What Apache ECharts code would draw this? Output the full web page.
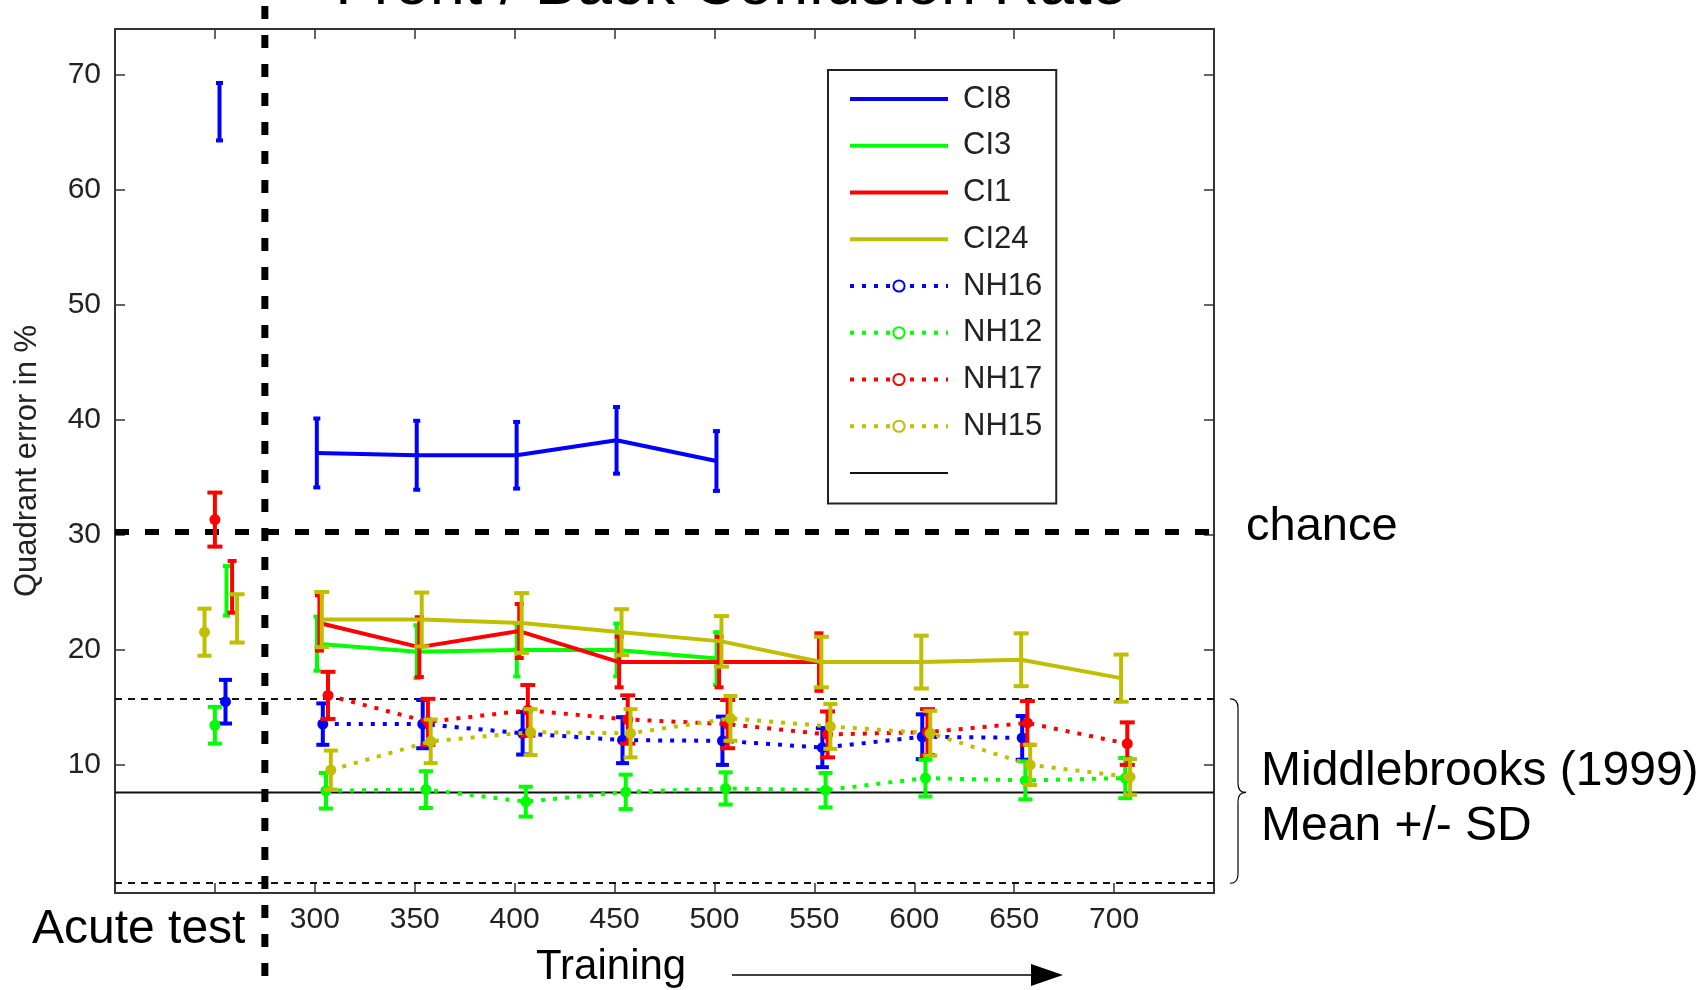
<!DOCTYPE html>
<html><head><meta charset="utf-8">
<script src="https://cdn.jsdelivr.net/npm/echarts@6/dist/echarts.min.js"></script>
<style>html,body{margin:0;padding:0;background:#fff;}#c{width:1705px;height:990px;}</style>
</head><body><div id="c"></div>
<script>
// ---------------- data ----------------
const sessions = [300, 350, 400, 450, 500, 550, 600, 650, 700];
const xTicks = [250, 300, 350, 400, 450, 500, 550, 600, 650, 700];
const xTickLabels = [300, 350, 400, 450, 500, 550, 600, 650, 700];
const yTickLabels = [10, 20, 30, 40, 50, 60, 70];
const seriesNames = ['CI8', 'CI3', 'CI1', 'CI24', 'NH16', 'NH12', 'NH17', 'NH15'];

// acute test: x position, mean, SD per listener
const acuteX    = [252.3, 255.8, 258.6, 261.1, 255.3, 250.0, 250.0, 244.8];
const acuteMean = [66.8, 25.1, 25.45, 22.7, 15.45, 13.4, 31.3, 21.5];
const acuteSD   = [2.5, 2.15, 2.25, 2.1, 1.9, 1.6, 2.35, 2.05];
// small horizontal jitter of each listener around the training session value
const trainJitter = [1.0, 1.1, 2.3, 3.5, 4.0, 5.6, 6.6, 8.0];

// training sessions (from 300 onward), mean and SD
const ci8Mean  = [37.1, 36.9, 36.9, 38.2, 36.4];
const ci8SD    = [3.0, 3.0, 2.9, 2.9, 2.6];
const ci3Mean  = [20.5, 19.8, 19.95, 19.95, 19.2];
const ci3SD    = [2.35, 2.3, 2.3, 2.3, 2.3];
const ci1Mean  = [22.3, 20.2, 21.6, 18.9, 18.9, 18.9];
const ci1SD    = [2.4, 2.6, 2.35, 2.2, 2.2, 2.5];
const ci24Mean = [22.6, 22.6, 22.3, 21.5, 20.7, 18.9, 18.9, 19.1, 17.5];
const ci24SD   = [2.4, 2.35, 2.6, 2.0, 2.2, 2.2, 2.3, 2.3, 2.05];
const nh16Mean = [13.5, 13.5, 12.7, 12.1, 12.05, 11.45, 12.4, 12.3];
const nh16SD   = [1.8, 2.1, 1.85, 2.0, 2.1, 1.7, 1.95, 1.9];
const nh12Mean = [7.7, 7.8, 6.75, 7.6, 7.9, 7.75, 8.8, 8.6, 8.8];
const nh12SD   = [1.55, 1.6, 1.3, 1.5, 1.4, 1.5, 1.6, 1.65, 1.75];
const nh17Mean = [16.0, 13.7, 14.7, 13.9, 13.5, 12.6, 12.8, 13.6, 11.8];
const nh17SD   = [2.05, 2.0, 2.2, 2.1, 2.1, 2.0, 2.0, 1.9, 1.85];
const nh15Mean = [9.5, 12.0, 12.8, 12.7, 14.0, 13.3, 12.7, 9.95, 8.9];
const nh15SD   = [1.7, 1.9, 2.0, 2.1, 1.95, 1.95, 1.95, 1.75, 1.55];

// reference levels
const chanceLevel = 30.2;
const mbMean = 7.55, mbUpper = 15.7, mbLower = -0.35;   // Middlebrooks (1999) mean +/- SD
const acuteDivider = 275;                                // acute test | training divider

// ---------------- styles ----------------
const FONT = "'Liberation Sans', Arial, Helvetica, sans-serif";
const colors = ['#0000ff', '#00ff00', '#ff0000', '#bfbf00', '#0000ff', '#00ff00', '#ff0000', '#bfbf00'];
const isNH = [false, false, false, false, true, true, true, true];
const capHalf = [3.5, 3.5, 4.5, 7.5, 6.5, 7, 7.5, 7];
const LW = 4;
const DOT = [4, 8];

const means = [ci8Mean, ci3Mean, ci1Mean, ci24Mean, nh16Mean, nh12Mean, nh17Mean, nh15Mean];
const sds   = [ci8SD, ci3SD, ci1SD, ci24SD, nh16SD, nh12SD, nh17SD, nh15SD];

const chart = echarts.init(document.getElementById('c'), null, {renderer: 'canvas'});

function errRender(idx) {
  const color = colors[idx], half = capHalf[idx];
  return function (params, api) {
    const x = api.value(0), m = api.value(1), s = api.value(2), acute = api.value(3);
    const top = api.coord([x, m + s]);
    const bot = api.coord([x, m - s]);
    const ctr = api.coord([x, m]);
    const st = {stroke: color, lineWidth: LW};
    const children = [
      {type: 'line', shape: {x1: top[0], y1: top[1] - 1.5, x2: bot[0], y2: bot[1] + 1.5}, style: st},
      {type: 'line', shape: {x1: top[0] - half, y1: top[1], x2: top[0] + half, y2: top[1]}, style: st},
      {type: 'line', shape: {x1: bot[0] - half, y1: bot[1], x2: bot[0] + half, y2: bot[1]}, style: st}
    ];
    if (isNH[idx] && acute) {
      children.push({type: 'circle', shape: {cx: ctr[0], cy: ctr[1], r: 5.5}, style: {fill: color}});
    }
    return {type: 'group', children: children};
  };
}

const series = [];
// Middlebrooks reference + chance (drawn below the data)
series.push({
  name: ' ', type: 'line', z: 3, silent: true, animation: false,
  symbol: 'none',
  data: [[200, mbMean], [750, mbMean]],
  lineStyle: {color: '#111', width: 2},
  markLine: {
    silent: true, symbol: 'none', animation: false, label: {show: false},
    data: [
      {yAxis: mbUpper, lineStyle: {color: '#111', width: 2, type: [7, 6]}},
      {yAxis: mbLower, lineStyle: {color: '#111', width: 2, type: [7, 6]}},
      {yAxis: chanceLevel, lineStyle: {color: '#000', width: 6, type: [14, 16]}}
    ]
  }
});

seriesNames.forEach(function (name, i) {
  const pts = means[i].map(function (m, k) { return [sessions[k] + trainJitter[i], m]; });
  series.push({
    name: name, type: 'line', z: 10 + i, animation: false,
    data: pts,
    symbol: isNH[i] ? 'circle' : 'none',
    symbolSize: 11, showSymbol: isNH[i],
    itemStyle: {color: colors[i]},
    lineStyle: {color: colors[i], width: LW, type: isNH[i] ? DOT : 'solid', cap: 'butt'}
  });
  const ebData = [[acuteX[i], acuteMean[i], acuteSD[i], 1]].concat(
    means[i].map(function (m, k) { return [sessions[k] + trainJitter[i], m, sds[i][k], 0]; }));
  series.push({
    type: 'custom', z: 10 + i, animation: false, silent: true,
    renderItem: errRender(i),
    encode: {x: 0, y: 1},
    data: ebData
  });
});

// divider line between acute test and training (extends beyond the axes)
series.push({
  type: 'custom', z: 30, silent: true, animation: false, clip: false,
  renderItem: function (params, api) {
    const p = api.coord([api.value(0), 0]);
    return {type: 'line', shape: {x1: p[0], y1: 6, x2: p[0], y2: 978},
      style: {stroke: '#000', lineWidth: 7, lineDash: [13, 16]}};
  },
  encode: {x: 0},
  data: [[acuteDivider]]
});

const legendData = seriesNames.map(function (n, i) {
  return isNH[i]
    ? {name: n, itemStyle: {color: '#ffffff', borderColor: colors[i], borderWidth: 2}}
    : {name: n, itemStyle: {opacity: 0}};
});
legendData.push({name: ' ', itemStyle: {opacity: 0}, lineStyle: {width: 2}});

const frame = {show: true, onZero: false, lineStyle: {color: '#333', width: 2}};
const tick = {show: true, inside: true, length: 10, lineStyle: {color: '#333', width: 1.5}};
const lbl = {fontFamily: FONT, fontSize: 30, color: '#222'};

const option = {
  backgroundColor: '#fff',
  animation: false,
  grid: {left: 115, top: 29, width: 1099, height: 864, containLabel: false},
  xAxis: [
    {type: 'value', position: 'bottom', min: 200, max: 750,
     axisLine: frame, splitLine: {show: false},
     axisTick: Object.assign({}, tick, {customValues: xTicks}),
     axisLabel: Object.assign({}, lbl, {customValues: xTickLabels, margin: 12})},
    {type: 'value', position: 'top', min: 200, max: 750,
     axisLine: frame, splitLine: {show: false},
     axisTick: Object.assign({}, tick, {customValues: xTicks}),
     axisLabel: {show: false}}
  ],
  yAxis: [
    {type: 'value', position: 'left', min: -1.2, max: 74,
     name: 'Quadrant error in %', nameLocation: 'middle', nameGap: 72,
     nameTextStyle: {fontFamily: FONT, fontSize: 31, color: '#222'},
     axisLine: frame, splitLine: {show: false},
     axisTick: Object.assign({}, tick, {customValues: yTickLabels}),
     axisLabel: Object.assign({}, lbl, {customValues: yTickLabels, margin: 14})},
    {type: 'value', position: 'right', min: -1.2, max: 74,
     axisLine: frame, splitLine: {show: false},
     axisTick: Object.assign({}, tick, {customValues: yTickLabels}),
     axisLabel: {show: false}}
  ],
  legend: {
    orient: 'vertical', left: 828, top: 70,
    padding: [13.5, 14, 15, 20],
    itemWidth: 98, itemHeight: 14, itemGap: 15.75,
    borderColor: '#222', borderWidth: 2, backgroundColor: '#fff',
    selectedMode: false,
    lineStyle: {width: 4},
    textStyle: {fontFamily: FONT, fontSize: 31, lineHeight: 31, color: '#222', padding: [0, 0, 0, 10]},
    data: legendData
  },
  series: series
};
chart.setOption(option);

// ---------------- annotations ----------------
const yUp = chart.convertToPixel({yAxisIndex: 0}, mbUpper);
const yLo = chart.convertToPixel({yAxisIndex: 0}, mbLower);
const yMid = chart.convertToPixel({yAxisIndex: 0}, mbMean);
const xR = chart.convertToPixel({xAxisIndex: 0}, 750);
const bx0 = xR + 16, bx1 = bx0 + 8, bx2 = bx1 + 8;
const braceStyle = {stroke: '#000', lineWidth: 1.2, fill: null};
function curve(x1, y1, cx, cy, x2, y2) {
  return {type: 'bezierCurve', silent: true, z: 50,
    shape: {x1: x1, y1: y1, cpx1: cx, cpy1: cy, x2: x2, y2: y2}, style: braceStyle};
}
function seg(x1, y1, x2, y2, w) {
  return {type: 'line', silent: true, z: 50, shape: {x1: x1, y1: y1, x2: x2, y2: y2},
    style: {stroke: '#000', lineWidth: w || 1.2}};
}

function txt(text, x, y, size, align) {
  return {type: 'text', x: x, y: y, silent: true, z: 50,
    style: {text: text, fontFamily: FONT, fontSize: size, fill: '#000',
      textAlign: align || 'left', textVerticalAlign: 'middle'}};
}

chart.setOption({
  graphic: [
    txt('Front / Back Confusion Rate', 731, -13, 63, 'center'),
    txt('chance', 1246, 527, 47),
    txt('Middlebrooks (1999)', 1261, 772, 48),
    txt('Mean +/- SD', 1261, 827, 48),
    txt('Acute test', 32, 930, 48),
    txt('Training', 536, 967, 42),
    curve(bx0, yUp, bx1, yUp, bx1, yUp + 9),
    seg(bx1, yUp + 9, bx1, yMid - 9),
    curve(bx1, yMid - 9, bx1, yMid, bx2, yMid),
    curve(bx2, yMid, bx1, yMid, bx1, yMid + 9),
    seg(bx1, yMid + 9, bx1, yLo - 9),
    curve(bx1, yLo - 9, bx1, yLo, bx0, yLo),
    seg(732, 975, 1035, 975, 1.5),
    {type: 'polygon', silent: true, z: 50, shape: {points: [[1031, 964], [1063, 975], [1031, 986]]},
     style: {fill: '#000'}}
  ]
});
</script>
</body></html>
